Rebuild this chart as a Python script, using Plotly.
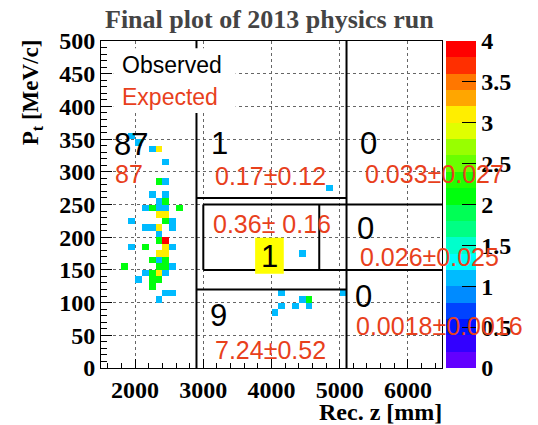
import colorsys
import numpy as np
import plotly.graph_objects as go

# ---------------- data ----------------
# Observed events in 2D histogram (bin lower edges: z in mm, pt in MeV/c), bin size 100 mm x 10 MeV/c
cell_z = [1900, 2000, 2200, 2300, 2400, 2300, 2400, 2200, 2400, 2300, 2400,
          2100, 2200, 2300, 2400, 2600, 2300, 2400, 1900, 2400, 2500,
          2100, 2200, 2300, 2500, 2300, 2300, 2400, 1900, 2100, 2400, 2500,
          2300, 2400, 2200, 2300, 2400, 1800, 2300, 2400, 2500,
          2100, 2200, 2300, 2400, 2000, 2200, 2300, 2200, 2400, 2500, 2300,
          4800, 4400,
          4100, 5000, 4400, 4500, 4100, 4300, 4500, 4000]
cell_pt = [350, 340, 330, 330, 310, 280, 280, 260, 260, 250, 250,
           240, 240, 240, 240, 240, 230, 230, 220, 220, 220,
           210, 210, 210, 210, 200, 190, 190, 180, 180, 180, 180,
           170, 170, 160, 160, 160, 150, 150, 150, 150,
           140, 140, 140, 140, 130, 130, 130, 120, 110, 110, 100,
           270, 170,
           110, 110, 100, 100, 90, 90, 90, 80]
cell_count = [1, 1, 1, 3, 1, 2, 1, 1, 1, 1, 2,
              1, 2, 1, 1, 2, 3, 3, 1, 2, 1,
              1, 1, 3, 1, 1, 2, 4, 1, 2, 3, 1,
              3, 3, 2, 1, 2, 2, 2, 2, 1,
              1, 2, 3, 1, 1, 2, 2, 2, 1, 1, 1,
              1, 1,
              1, 1, 1, 2, 1, 1, 1, 1]

# Region labels: observed counts and expected background
region_observed = ["87", "1", "0", "1", "0", "9", "0"]
region_expected = ["87", "0.17±0.12", "0.033±0.027", "0.36± 0.16", "0.026±0.025",
                   "7.24±0.52", "0.0018±0.0016"]

colorbar_ticks = [0, 0.5, 1, 1.5, 2, 2.5, 3, 3.5, 4]
x_ticks = [2000, 3000, 4000, 5000, 6000]

# ---------------- histogram grid ----------------
z_edges = np.arange(1500, 6501, 100)
pt_edges = np.arange(0, 501, 10)
grid = np.full((len(pt_edges) - 1, len(z_edges) - 1), np.nan)
for z, p, c in zip(cell_z, cell_pt, cell_count):
    grid[int(round(p / 10)), int(round((z - 1500) / 100))] = c

# ROOT "pretty" palette, 20 contour bands
nb = 20
cols = []
for k in range(nb):
    idx = min(int((k + 0.99) * 50 / nb), 49)
    hue = 280 - (idx + 1) * 5.6
    r, g, b = colorsys.hls_to_rgb(max(hue, 0) / 360.0, 0.5, 1.0)
    cols.append(f"rgb({int(r*255)},{int(g*255)},{int(b*255)})")
cscale = []
for k in range(nb):
    cscale.append([k / nb, cols[k]])
    cscale.append([(k + 1) / nb, cols[k]])

RED = "#e8401c"
SANS = "Liberation Sans, Arial, sans-serif"
SERIF = "Liberation Serif, Times New Roman, serif"

fig = go.Figure()
fig.add_trace(go.Heatmap(
    x=z_edges, y=pt_edges, z=grid, zmin=0, zmax=4, colorscale=cscale,
    hoverongaps=False,
    colorbar=dict(
        thickness=30, len=1, lenmode="fraction", y=0.5, yanchor="middle",
        x=(452 - 101) / 347, xanchor="left", xpad=0, ypad=0,
        outlinewidth=0, ticks="inside", ticklen=14, tickcolor="black",
        tickvals=colorbar_ticks, ticktext=[f"{v:g}" for v in colorbar_ticks],
        tickfont=dict(family=SERIF, size=24, color="black", weight="bold"),
    ),
))

shapes = []
segs = [((2900, 0), (2900, 500)), ((5100, 0), (5100, 500)),
        ((2900, 260), (5100, 260)), ((3000, 250), (6500, 250)),
        ((3000, 150), (6500, 150)), ((3000, 150), (3000, 250)),
        ((4700, 150), (4700, 250)), ((2900, 120), (5100, 120))]
for (x0, y0), (x1, y1) in segs:
    shapes.append(dict(type="line", x0=x0, y0=y0, x1=x1, y1=y1, xref="x", yref="y",
                       line=dict(color="black", width=2), layer="above"))
# legend white box
shapes.append(dict(type="rect", x0=1680, x1=3474, y0=390, y1=489, xref="x", yref="y",
                   fillcolor="white", line=dict(width=0), layer="above"))
# yellow highlight of signal-region observation
shapes.append(dict(type="rect", x0=3760, x1=4180, y0=144, y1=199, xref="x", yref="y",
                   fillcolor="#ffff00", line=dict(width=0), layer="above"))

ann = []
def txt(s, x, y, size, color, xanchor="left"):
    ann.append(dict(text=s, x=x, y=y, xref="x", yref="y", showarrow=False,
                    xanchor=xanchor, yanchor="middle", borderpad=0,
                    font=dict(family=SANS, size=size, color=color)))

txt("Observed", 1788, 463, 23, "black")
txt("Expected", 1788, 414, 23, RED)

obs_pos = [(1673, 342, "left"), (3100, 343, "left"), (5276, 344, "left"),
           (3964, 171, "center"), (5232, 214, "left"), (3085, 81, "left"),
           (5203, 110, "left")]
exp_pos = [(1687, 297), (3157, 294), (5362, 297), (3128, 220), (5290, 170),
           (3157, 28), (5218, 64)]
for s, (x, y, a) in zip(region_observed, obs_pos):
    txt(s, x, y, 31, "black", a)
for s, (x, y) in zip(region_expected, exp_pos):
    txt(s, x, y, 25, RED)

# titles
ann.append(dict(text="Final plot of 2013 physics run", x=(272 - 101) / 347, y=(368 - 19) / 327,
                xref="paper", yref="paper", showarrow=False, xanchor="center", yanchor="middle",
                font=dict(family=SERIF, size=26, color="#444444", weight="bold")))
ann.append(dict(text="P<sub>t</sub> [MeV/c]", x=(31 - 101) / 347, y=(368 - 92) / 327,
                xref="paper", yref="paper", showarrow=False, xanchor="center", yanchor="middle",
                textangle=-90, font=dict(family=SERIF, size=23, color="black", weight="bold")))
ann.append(dict(text="Rec. z [mm]", x=(450 - 101) / 347, y=(368 - 412) / 327,
                xref="paper", yref="paper", showarrow=False, xanchor="right", yanchor="middle",
                font=dict(family=SERIF, size=24, color="black", weight="bold")))

axis_common = dict(
    showline=True, mirror=True, linecolor="black", linewidth=1,
    ticks="inside", tickcolor="black", showgrid=True, gridcolor="#666666",
    griddash="dot", gridwidth=1, zeroline=False,
    tickfont=dict(family=SERIF, size=24, color="black", weight="bold"),
)
fig.update_layout(
    width=538, height=425, margin=dict(l=101, r=90, t=41, b=57),
    paper_bgcolor="white", plot_bgcolor="white",
    shapes=shapes, annotations=ann, showlegend=False,
    xaxis=dict(range=[1500, 6500], tickvals=x_ticks, ticklen=9,
               minor=dict(dtick=200, ticklen=5, ticks="inside", tickcolor="black", showgrid=False),
               **axis_common),
    yaxis=dict(range=[0, 500], dtick=50, ticklen=11,
               minor=dict(dtick=10, ticklen=6, ticks="inside", tickcolor="black", showgrid=False),
               **axis_common),
)
fig.write_html("out.html", config={"displayModeBar": False},
               post_script="document.body.style.margin='0';document.body.style.padding='0';")
